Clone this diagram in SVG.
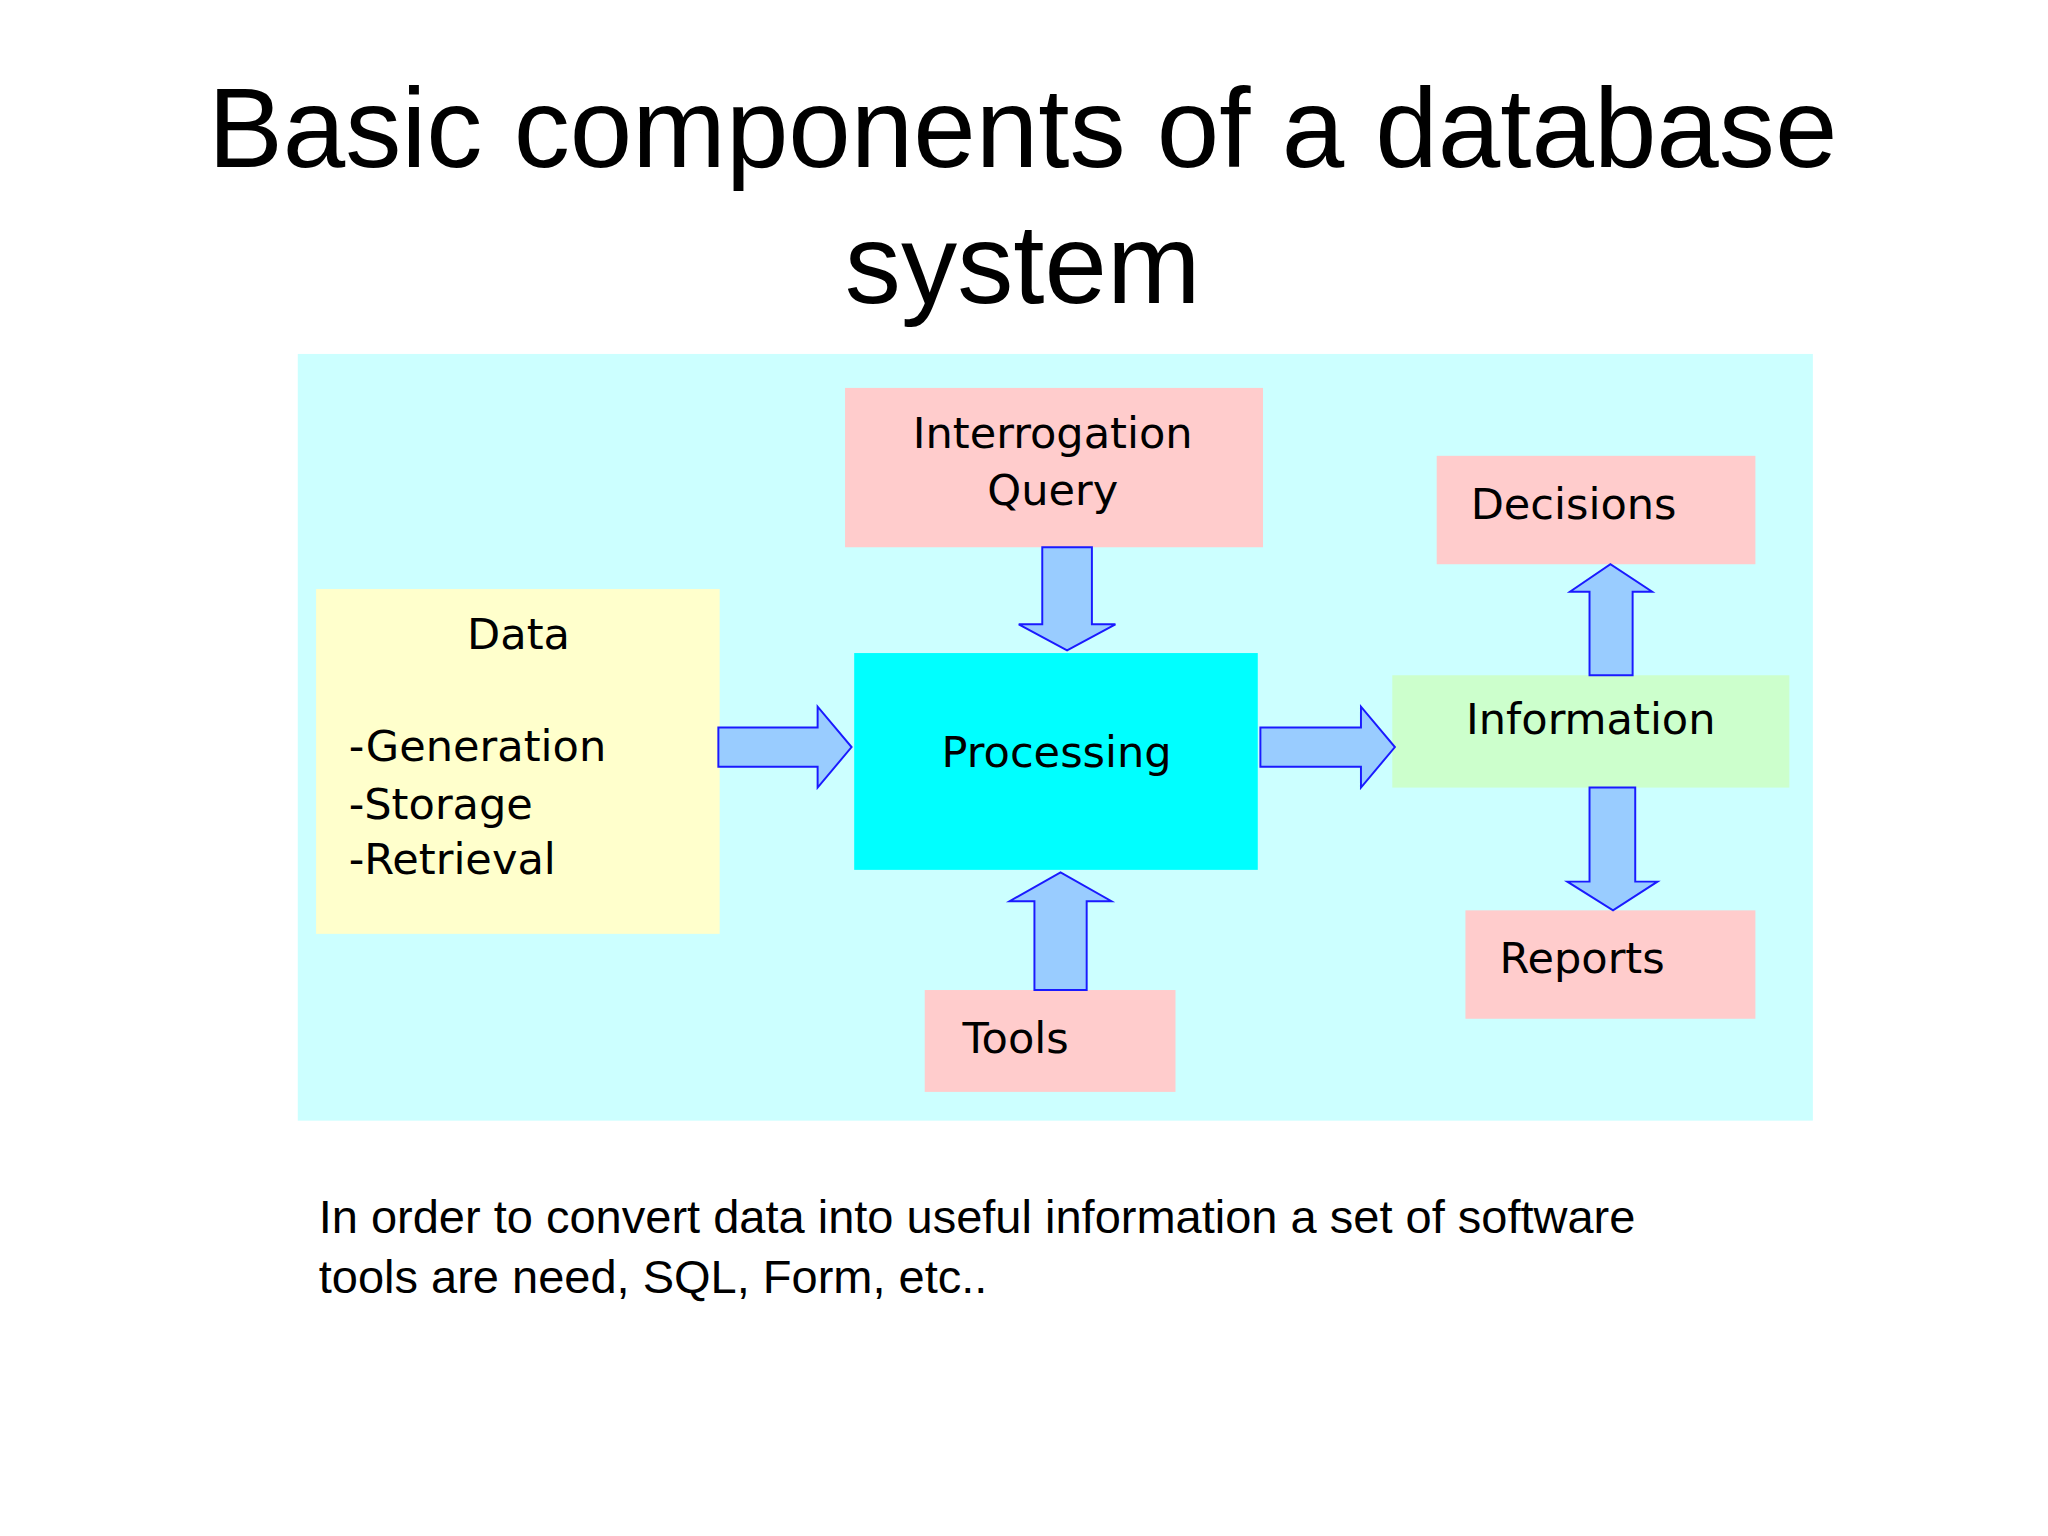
<svg xmlns="http://www.w3.org/2000/svg" width="2048" height="1536" viewBox="0 0 2048 1536">
<style>
.t{font-family:"Liberation Sans",Arial,sans-serif;fill:#000}
.n{font-family:"DejaVu Sans",Verdana,sans-serif;font-size:33px;fill:#000}
.pk{fill:#FFCCCC}
.ar{fill:#99CCFF;stroke:#1a1aff;stroke-width:1.5}
</style>
<rect width="2048" height="1536" fill="#fff"/>
<g transform="scale(1.3061)">
<text class="t" x="783" y="128" font-size="86" text-anchor="middle">Basic components of a database</text>
<text class="t" x="783" y="232" font-size="86" text-anchor="middle">system</text>
<rect x="228" y="271" width="1160" height="587" fill="#CCFFFF"/>
<g id="query"><rect class="pk" x="647" y="297" width="320" height="122"/><text class="n" x="806" y="343" text-anchor="middle">Interrogation</text><text class="n" x="806" y="387" text-anchor="middle">Query</text></g>
<g id="decisions"><rect class="pk" x="1100" y="349" width="244" height="83"/><text class="n" x="1126" y="397">Decisions</text></g>
<g id="data"><rect x="242" y="451" width="309" height="264" fill="#FFFFCC"/><text class="n" x="397" y="497" text-anchor="middle">Data</text><text class="n" x="267" y="583">-Generation</text><text class="n" x="267" y="627">-Storage</text><text class="n" x="267" y="669">-Retrieval</text></g>
<g id="processing"><rect x="654" y="500" width="309" height="166" fill="#00FFFF"/><text class="n" x="809" y="587" text-anchor="middle">Processing</text></g>
<g id="information"><rect x="1066" y="517" width="304" height="86" fill="#CCFFCC"/><text class="n" x="1218" y="562" text-anchor="middle">Information</text></g>
<g id="reports"><rect class="pk" x="1122" y="697" width="222" height="83"/><text class="n" x="1148" y="745">Reports</text></g>
<g id="tools"><rect class="pk" x="708" y="758" width="192" height="78"/><text class="n" x="737" y="806">Tools</text></g>
<g id="connectors">
<polygon class="ar" points="550,557 626,557 626,541 652,572 626,603 626,587 550,587"/>
<polygon class="ar" points="965,557 1042,557 1042,541 1068,572 1042,603 1042,587 965,587"/>
<polygon class="ar" points="798,419 836,419 836,478 854,478 817,498 780,478 798,478"/>
<polygon class="ar" points="792,758 832,758 832,690 851,690 812,668 773,690 792,690"/>
<polygon class="ar" points="1217,517 1250,517 1250,453 1265,453 1233,432 1202,453 1217,453"/>
<polygon class="ar" points="1217,603 1252,603 1252,675 1269,675 1235,697 1200,675 1217,675"/>
</g>
<text class="t" x="244" y="944" font-size="36">In order to convert data into useful information a set of software</text>
<text class="t" x="244" y="990" font-size="36">tools are need, SQL, Form, etc..</text>
</g>
</svg>
